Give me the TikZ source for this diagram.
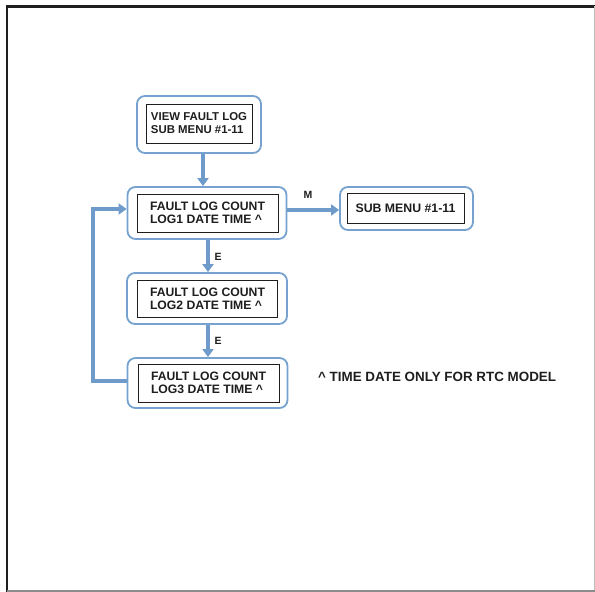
\documentclass[tikz,border=0pt]{standalone}
\usepackage{fontspec}
\setmainfont{Liberation Sans}
\usetikzlibrary{arrows.meta}
\definecolor{flowblue}{RGB}{110,155,202}
\definecolor{boxblue}{RGB}{118,162,208}
\definecolor{txt}{RGB}{30,30,30}
\tikzset{
  outerbox/.style={draw=boxblue, line width=1.8pt, rounded corners=8pt, fill=white},
  innerbox/.style={draw=txt, line width=0.9pt, fill=white, font=\fontsize{12.2}{13.5}\selectfont\bfseries, text=txt, align=left, inner sep=0pt},
  flow/.style={draw=flowblue, line width=3.8pt, -{Triangle[width=11pt,length=8pt]}},
  flowplain/.style={draw=flowblue, line width=3.8pt},
  lbl/.style={font=\fontsize{10.5}{12}\selectfont\bfseries, text=txt, inner sep=0pt}
}
\begin{document}
\begin{tikzpicture}[x=1pt,y=-1pt]
\useasboundingbox (0,0) rectangle (595,592);
% frame
\draw[line width=2.6pt, draw=black!88] (6,6.5) -- (595,6.5);
\draw[line width=2.6pt, draw=black!88] (7,5.2) -- (7,592);
\draw[line width=0.8pt, draw=black!25] (594,6) -- (594,592);
\draw[line width=1.2pt, draw=black!45] (7,591) -- (595,591);
% boxes
\node[outerbox, minimum width=124pt, minimum height=57pt] (b1) at (199,124.5) {};
\node[innerbox, minimum width=106pt, minimum height=39pt, font=\fontsize{11.4}{13}\selectfont\bfseries] (i1) at (199,123.5) {VIEW FAULT LOG\\SUB MENU \#1-11};
\node[outerbox, minimum width=159pt, minimum height=52pt] (b2) at (207,213) {};
\node[innerbox, minimum width=141pt, minimum height=38pt] (i2) at (207.5,213) {FAULT LOG COUNT\\LOG1 DATE TIME \^{}};
\node[outerbox, minimum width=160pt, minimum height=51pt] (b3) at (207,298.5) {};
\node[innerbox, minimum width=140pt, minimum height=37pt] (i3) at (207.5,299) {FAULT LOG COUNT\\LOG2 DATE TIME \^{}};
\node[outerbox, minimum width=160pt, minimum height=50pt] (b4) at (207.5,383) {};
\node[innerbox, minimum width=141pt, minimum height=38pt] (i4) at (208.5,383) {FAULT LOG COUNT\\LOG3 DATE TIME \^{}};
\node[outerbox, minimum width=133pt, minimum height=43pt] (b5) at (406.5,208.5) {};
\node[innerbox, minimum width=117pt, minimum height=30pt, font=\fontsize{12.3}{13}\selectfont\bfseries] (i5) at (405.5,208) {SUB MENU \#1-11};
% note
\node[font=\fontsize{13.4}{15}\selectfont\bfseries, text=txt, anchor=west, inner sep=0pt] (note) at (318,377) {\^{} TIME DATE ONLY FOR RTC MODEL};
% connector guides
\coordinate (x1) at (203,0);
\coordinate (x2) at (208,0);
\coordinate (ym) at (0,210);
\coordinate (yl) at (0,381);
\coordinate (lb) at (93,381);
\coordinate (lt) at (93,209);
% connectors
\draw[flow] (b1.south -| x1) -- (b2.north -| x1);
\draw[flow] (b2.south -| x2) -- (b3.north -| x2);
\draw[flow] (b3.south -| x2) -- (b4.north -| x2);
\draw[flow] (b2.east |- ym) -- (b5.west |- ym);
\draw[flowplain, line join=miter] (b4.west |- yl) -- (lb) -- (lt);
\draw[flow] ([xshift=-1.9pt]lt) -- (b2.west |- lt);
% labels
\node[lbl] (lm) at (308,195) {M};
\node[lbl] (le1) at (218,257) {E};
\node[lbl] (le2) at (218,341) {E};
\end{tikzpicture}
\end{document}
